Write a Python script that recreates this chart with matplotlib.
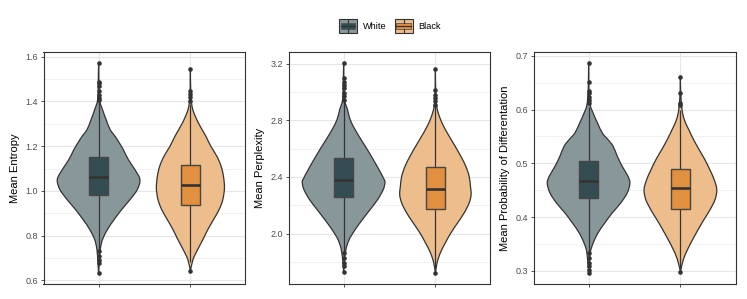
import numpy as np
import matplotlib
matplotlib.use("Agg")
import matplotlib.pyplot as plt
from matplotlib.path import Path
from matplotlib.patches import PathPatch, Rectangle, Patch
from matplotlib.legend_handler import HandlerBase
from matplotlib.lines import Line2D

plt.rcParams['font.family'] = ['Liberation Sans', 'DejaVu Sans']

groups = ["White", "Black"]
metrics = ["Mean Entropy", "Mean Perplexity", "Mean Probability of Differentation"]

# ---- Mean Entropy ----
entropy_white_y = [0.631, 0.679, 0.738, 0.783, 0.828, 0.872, 0.917, 0.961, 1.006, 1.051, 1.095,
                   1.140, 1.184, 1.214, 1.244, 1.274, 1.318, 1.363, 1.407, 1.490, 1.574]
entropy_white_d = [0.0, 0.016, 0.04, 0.096, 0.216, 0.376, 0.56, 0.76, 0.936, 1.0, 0.88,
                   0.72, 0.6, 0.504, 0.4, 0.28, 0.184, 0.096, 0.024, 0.008, 0.0]
entropy_black_y = [0.642, 0.694, 0.738, 0.783, 0.828, 0.872, 0.917, 0.961, 1.013, 1.065, 1.110,
                   1.155, 1.199, 1.244, 1.288, 1.333, 1.378, 1.45, 1.544]
entropy_black_d = [0.0, 0.064, 0.176, 0.304, 0.424, 0.56, 0.696, 0.784, 0.824, 0.8, 0.744,
                   0.64, 0.496, 0.376, 0.24, 0.12, 0.04, 0.008, 0.0]
entropy_white_box = [0.735, 0.982, 1.062, 1.152, 1.400]   # whisker low, q1, median, q3, whisker high
entropy_black_box = [0.680, 0.936, 1.025, 1.117, 1.390]
entropy_white_out = [0.631, 0.679, 0.689, 0.709, 0.731, 1.407, 1.415, 1.430, 1.445, 1.467, 1.482, 1.489, 1.574]
entropy_black_out = [0.642, 1.400, 1.422, 1.434, 1.445, 1.544]

# ---- Mean Perplexity ----
perplexity_white_y = [1.729, 1.793, 1.887, 1.958, 2.028, 2.099, 2.169, 2.240, 2.311, 2.358, 2.381,
                      2.452, 2.522, 2.593, 2.664, 2.734, 2.805, 2.875, 2.946, 3.070, 3.209]
perplexity_white_d = [0.0, 0.016, 0.056, 0.136, 0.28, 0.456, 0.64, 0.824, 0.96, 1.0, 0.984,
                      0.856, 0.72, 0.576, 0.424, 0.28, 0.16, 0.096, 0.024, 0.008, 0.0]
perplexity_black_y = [1.718, 1.793, 1.864, 1.934, 2.005, 2.075, 2.146, 2.216, 2.275, 2.334, 2.405,
                      2.475, 2.546, 2.616, 2.687, 2.758, 2.828, 2.899, 3.000, 3.162]
perplexity_black_d = [0.0, 0.04, 0.12, 0.24, 0.376, 0.536, 0.696, 0.816, 0.864, 0.848, 0.816,
                      0.736, 0.616, 0.48, 0.336, 0.2, 0.096, 0.032, 0.008, 0.0]
perplexity_white_box = [1.870, 2.261, 2.381, 2.534, 2.940]
perplexity_black_box = [1.740, 2.174, 2.315, 2.468, 2.900]
perplexity_white_out = [1.729, 1.769, 1.793, 1.828, 1.864, 2.946, 2.969, 2.993, 3.028, 3.052, 3.075, 3.099, 3.209]
perplexity_black_out = [1.718, 2.911, 2.934, 2.958, 2.981, 3.016, 3.162]

# ---- Mean Probability of Differentiation ----
prob_white_y = [0.295, 0.333, 0.352, 0.371, 0.389, 0.408, 0.426, 0.445, 0.463, 0.476, 0.494,
                0.513, 0.532, 0.544, 0.556, 0.575, 0.593, 0.609, 0.640, 0.6876]
prob_white_d = [0.0, 0.04, 0.112, 0.232, 0.392, 0.576, 0.776, 0.936, 1.0, 0.952, 0.816,
                0.696, 0.592, 0.472, 0.336, 0.216, 0.112, 0.04, 0.008, 0.0]
prob_black_y = [0.298, 0.321, 0.340, 0.358, 0.377, 0.396, 0.414, 0.433, 0.451, 0.470, 0.488,
                0.507, 0.525, 0.544, 0.563, 0.581, 0.600, 0.630, 0.660]
prob_black_d = [0.0, 0.072, 0.176, 0.296, 0.432, 0.576, 0.72, 0.84, 0.88, 0.816, 0.712,
                0.592, 0.456, 0.32, 0.2, 0.096, 0.04, 0.008, 0.0]
prob_white_box = [0.336, 0.436, 0.468, 0.504, 0.605]
prob_black_box = [0.305, 0.415, 0.454, 0.490, 0.600]
prob_white_out = [0.295, 0.302, 0.309, 0.315, 0.324, 0.333, 0.612, 0.618, 0.624, 0.631, 0.634, 0.652, 0.6876]
prob_black_out = [0.298, 0.609, 0.612, 0.631, 0.660]

entropy_ticks = ["0.6", "0.8", "1.0", "1.2", "1.4", "1.6"]
perplexity_ticks = ["2.0", "2.4", "2.8", "3.2"]
prob_ticks = ["0.3", "0.4", "0.5", "0.6", "0.7"]

panels = [
    dict(label=metrics[0], ticks=entropy_ticks,
         violins=[(entropy_white_y, entropy_white_d), (entropy_black_y, entropy_black_d)],
         boxes=[entropy_white_box, entropy_black_box],
         outs=[entropy_white_out, entropy_black_out]),
    dict(label=metrics[1], ticks=perplexity_ticks,
         violins=[(perplexity_white_y, perplexity_white_d), (perplexity_black_y, perplexity_black_d)],
         boxes=[perplexity_white_box, perplexity_black_box],
         outs=[perplexity_white_out, perplexity_black_out]),
    dict(label=metrics[2], ticks=prob_ticks,
         violins=[(prob_white_y, prob_white_d), (prob_black_y, prob_black_d)],
         boxes=[prob_white_box, prob_black_box],
         outs=[prob_white_out, prob_black_out]),
]

violin_fill = {"White": "#87979a", "Black": "#edbd8b"}
box_fill = {"White": "#344d53", "Black": "#e0903f"}
ink = "#333333"


def bezier_side(xs, ys):
    """Catmull-Rom through the points, expressed as cubic Bezier control points."""
    pts = np.column_stack([xs, ys])
    n = len(pts)
    verts, codes = [], []
    for i in range(n - 1):
        p0 = pts[i - 1] if i > 0 else pts[i]
        p1 = pts[i]
        p2 = pts[i + 1]
        p3 = pts[i + 2] if i + 2 < n else pts[i + 1]
        c1 = p1 + (p2 - p0) / 6.0
        c2 = p2 - (p3 - p1) / 6.0
        verts += [tuple(c1), tuple(c2), tuple(p2)]
        codes += [Path.CURVE4] * 3
    return verts, codes


def violin_path(pos, ys, dens, half=0.45):
    ys = np.asarray(ys, float)
    d = np.asarray(dens, float) * half
    xr = pos + d
    xl = pos - d
    verts = [(xr[0], ys[0])]
    codes = [Path.MOVETO]
    v, c = bezier_side(xr, ys)
    verts += v
    codes += c
    v, c = bezier_side(xl[::-1], ys[::-1])
    verts += [(xl[-1], ys[-1])]
    codes += [Path.LINETO]
    verts += v
    codes += c
    verts += [(xr[0], ys[0])]
    codes += [Path.CLOSEPOLY]
    return Path(verts, codes)


fig = plt.figure(figsize=(7.47, 2.99), dpi=100)
W, H = 747.0, 299.0
lefts = [43.5, 288.5, 533.5]
ax_w = 202.0
top_px, bot_px = 52.0, 284.0

for k, p in enumerate(panels):
    ax = fig.add_axes([lefts[k] / W, 1 - bot_px / H, ax_w / W, (bot_px - top_px) / H])
    positions = np.arange(1, len(groups) + 1)
    allv = []
    for i, g in enumerate(groups):
        ys, ds = p["violins"][i]
        pos = positions[i]
        patch = PathPatch(violin_path(pos, ys, ds), facecolor=violin_fill[g], edgecolor=ink,
                          lw=0.9, zorder=2)
        ax.add_patch(patch)
        wlo, q1, med, q3, whi = p["boxes"][i]
        ax.plot([pos, pos], [wlo, q1], color=ink, lw=0.9, zorder=3, solid_capstyle='butt')
        ax.plot([pos, pos], [q3, whi], color=ink, lw=0.9, zorder=3, solid_capstyle='butt')
        ax.add_patch(Rectangle((pos - 0.1, q1), 0.2, q3 - q1, facecolor=box_fill[g],
                               edgecolor="#454545", lw=1.0, zorder=4))
        ax.plot([pos - 0.1, pos + 0.1], [med, med], color=ink, lw=1.9, zorder=5,
                solid_capstyle='butt')
        outs = p["outs"][i]
        ax.plot(np.full(len(outs), pos), outs, 'o', ms=3.3, color=ink, mec='none', zorder=6)
        allv += list(ys) + list(outs)
    lo, hi = min(allv), max(allv)
    pad = 0.05 * (hi - lo)
    ax.set_ylim(lo - pad, hi + pad)
    ax.set_xlim(0.4, 2.6)
    tvals = [float(t) for t in p["ticks"]]
    ax.set_yticks(tvals)
    ax.set_yticklabels(p["ticks"])
    step = tvals[1] - tvals[0]
    minor = np.arange(tvals[0] - step / 2, tvals[-1] + step, step)
    minor = minor[(minor > lo - pad) & (minor < hi + pad)]
    ax.set_yticks(minor, minor=True)
    ax.set_xticks(positions)
    ax.set_xticklabels(["", ""])
    ax.grid(True, which='major', color="#e6e6e6", lw=0.8, zorder=0)
    ax.grid(True, which='minor', axis='y', color="#efefef", lw=0.6, zorder=0)
    ax.set_axisbelow(True)
    ax.tick_params(axis='both', which='major', length=2.5, width=0.6, color=ink,
                   labelcolor="#4d4d4d", labelsize=6.5, pad=1.5)
    ax.tick_params(axis='y', which='minor', length=0)
    for s in ax.spines.values():
        s.set_color(ink)
        s.set_linewidth(0.8)
    ax.set_ylabel(p["label"], fontsize=8, color="black", labelpad=4)


class BoxKeyHandler(HandlerBase):
    def __init__(self, box_color):
        super().__init__()
        self.box_color = box_color

    def create_artists(self, legend, orig_handle, xdescent, ydescent, width, height,
                       fontsize, trans):
        x0, y0 = -xdescent, -ydescent
        outer = Rectangle((x0, y0), width, height, facecolor=orig_handle.get_facecolor(),
                          edgecolor=ink, lw=0.8, transform=trans)
        inner = Rectangle((x0 + 0.1 * width, y0 + 0.25 * height), 0.8 * width, 0.5 * height,
                          facecolor=self.box_color, edgecolor="#555555", lw=0.6, transform=trans)
        med = Line2D([x0 + 0.1 * width, x0 + 0.9 * width], [y0 + 0.5 * height] * 2,
                     color=ink, lw=0.9, transform=trans)
        w1 = Line2D([x0 + 0.5 * width] * 2, [y0 + 0.05 * height, y0 + 0.25 * height],
                    color=ink, lw=0.8, transform=trans)
        w2 = Line2D([x0 + 0.5 * width] * 2, [y0 + 0.75 * height, y0 + 0.95 * height],
                    color=ink, lw=0.8, transform=trans)
        return [outer, inner, med, w1, w2]


handles = [Patch(facecolor=violin_fill[g]) for g in groups]
hmap = {h: BoxKeyHandler(box_fill[g]) for h, g in zip(handles, groups)}
fig.legend(handles=handles, labels=groups, loc='center', bbox_to_anchor=(0.522, 0.913),
           ncol=2, frameon=False, handler_map=hmap, fontsize=6.6, handlelength=2.0,
           handleheight=1.9, handletextpad=0.6, columnspacing=0.9, borderpad=0.2)

fig.savefig("out.png", dpi=100, facecolor="white")
